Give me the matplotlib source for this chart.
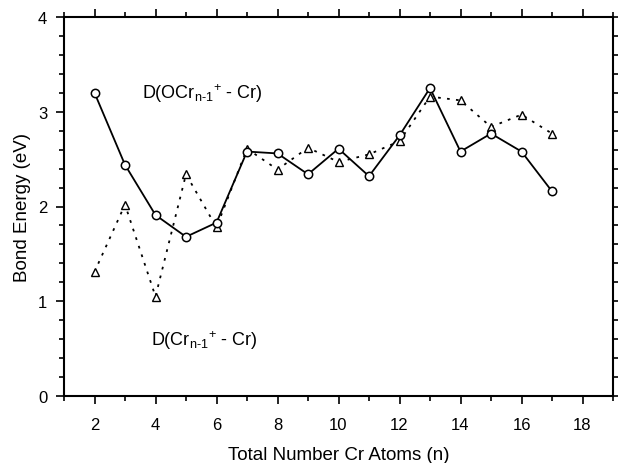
import matplotlib.pyplot as plt
from matplotlib.ticker import MultipleLocator

plt.rcParams['font.family'] = ['Liberation Sans', 'DejaVu Sans']
plt.rcParams['mathtext.fontset'] = 'custom'
plt.rcParams['mathtext.rm'] = 'Liberation Sans'

n_atoms = [2, 3, 4, 5, 6, 7, 8, 9, 10, 11, 12, 13, 14, 15, 16, 17]
d_ocr = [3.20, 2.44, 1.91, 1.68, 1.83, 2.58, 2.56, 2.34, 2.61, 2.32, 2.75, 3.25, 2.58, 2.77, 2.58, 2.16]
d_cr = [1.31, 2.02, 1.05, 2.34, 1.78, 2.61, 2.39, 2.62, 2.47, 2.55, 2.69, 3.16, 3.12, 2.84, 2.97, 2.77]

fig = plt.figure(figsize=(6.18, 4.64), dpi=100)
ax = fig.add_axes([64 / 618, 1 - 397 / 464, (613 - 64) / 618, (397 - 18) / 464])

ax.plot(n_atoms, d_cr, linestyle=(0, (1.5, 3.5)), color='black', linewidth=1.3,
        marker='^', markersize=5.5, markerfacecolor='white', markeredgecolor='black', markeredgewidth=1.0)
ax.plot(n_atoms, d_ocr, linestyle='-', color='black', linewidth=1.3,
        marker='o', markersize=6, markerfacecolor='white', markeredgecolor='black', markeredgewidth=1.1)

ax.text(5.55, 3.2, r'D(OCr$_{\text{n-1}}$$^{\text{+}}$ - Cr)', fontsize=13, ha='center', va='center')
ax.text(5.6, 0.6, r'D(Cr$_{\text{n-1}}$$^{\text{+}}$ - Cr)', fontsize=13, ha='center', va='center')

ax.set_xlim(1, 19)
ax.set_ylim(0, 4)
ax.xaxis.set_major_locator(MultipleLocator(2))
ax.xaxis.set_minor_locator(MultipleLocator(1))
ax.yaxis.set_major_locator(MultipleLocator(1))
ax.yaxis.set_minor_locator(MultipleLocator(0.2))
ax.tick_params(which='both', direction='out', top=True, right=True, labelsize=12, width=1.2)
ax.tick_params(which='major', length=6)
ax.tick_params(axis='x', which='major', pad=9)
ax.tick_params(axis='y', which='major', pad=6)
ax.tick_params(which='minor', length=3.5)
for s in ax.spines.values():
    s.set_linewidth(1.5)

ax.set_xlabel('Total Number Cr Atoms (n)', fontsize=13.5, labelpad=10)
ax.set_ylabel('Bond Energy (eV)', fontsize=13.5, labelpad=5)

fig.savefig('out.png', dpi=100)
